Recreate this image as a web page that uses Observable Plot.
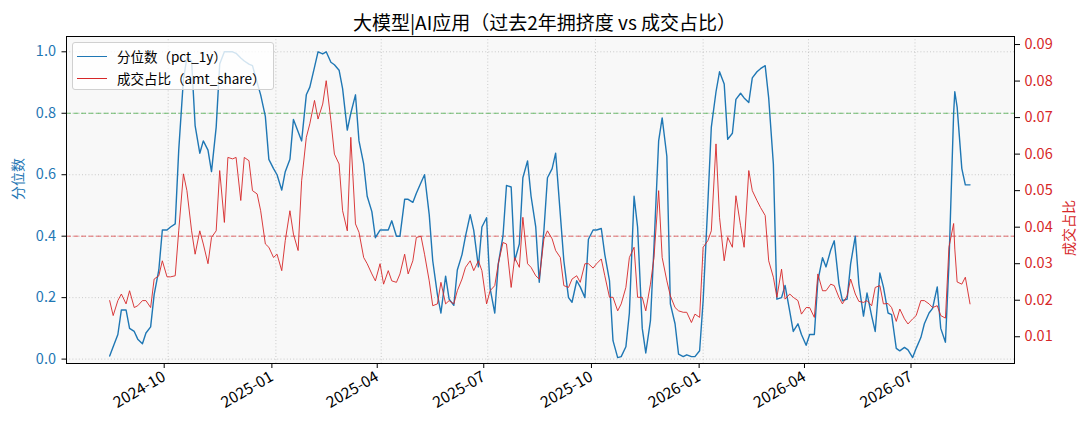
<!DOCTYPE html>
<html>
<head>
<meta charset="utf-8">
<script src="https://cdn.jsdelivr.net/npm/d3@7"></script>
<script src="https://cdn.jsdelivr.net/npm/@observablehq/plot@0.6"></script>
<style>
  html, body { margin: 0; padding: 0; background: #fff; }
  #wrap { position: relative; width: 1089px; height: 429px; font-family: "Noto Sans CJK SC", "Noto Sans", sans-serif; }
  #legend { position: absolute; left: 72px; top: 42px; width: 202px; height: 48px; box-sizing: border-box;
    background: rgba(255,255,255,0.8); border: 1px solid #d0d0d0; border-radius: 3px; font-size: 13.5px; color: #000; }
  .row { position: absolute; left: 0; height: 20px; display: flex; align-items: center; white-space: nowrap; }
  .sw { display: inline-block; width: 30px; margin-left: 4px; margin-right: 10px; }
</style>
</head>
<body>
<div id="wrap">
  <div id="chart"></div>
  <div id="legend">
    <div class="row" style="top:3px"><span class="sw" style="border-top:1.6px solid #1f77b4"></span><span>分位数（pct_1y）</span></div>
    <div class="row" style="top:25px"><span class="sw" style="border-top:1.1px solid #d62728"></span><span>成交占比（amt_share）</span></div>
  </div>
</div>
<script>
const title = "大模型|AI应用（过去2年拥挤度 vs 成交占比）";
const leftLabel = "分位数";
const rightLabel = "成交占比";

const dates = [
  "2024-08-12","2024-08-15","2024-08-19","2024-08-22","2024-08-26","2024-08-29",
  "2024-09-02","2024-09-05","2024-09-09","2024-09-12","2024-09-16","2024-09-19","2024-09-23","2024-09-26","2024-09-30",
  "2024-10-03","2024-10-07","2024-10-10","2024-10-14","2024-10-17","2024-10-21","2024-10-24","2024-10-28","2024-10-31",
  "2024-11-04","2024-11-07","2024-11-11","2024-11-14","2024-11-18","2024-11-21","2024-11-25","2024-11-28",
  "2024-12-02","2024-12-05","2024-12-09","2024-12-12","2024-12-16","2024-12-19","2024-12-23","2024-12-26","2024-12-30",
  "2025-01-02","2025-01-06","2025-01-09","2025-01-13","2025-01-16","2025-01-20","2025-01-23","2025-01-27","2025-01-30",
  "2025-02-03","2025-02-06","2025-02-10","2025-02-13","2025-02-17","2025-02-20","2025-02-24","2025-02-27",
  "2025-03-03","2025-03-06","2025-03-10","2025-03-13","2025-03-17","2025-03-20","2025-03-24","2025-03-27","2025-03-31",
  "2025-04-03","2025-04-07","2025-04-10","2025-04-14","2025-04-17","2025-04-21","2025-04-24","2025-04-28",
  "2025-05-01","2025-05-05","2025-05-08","2025-05-12","2025-05-15","2025-05-19","2025-05-22","2025-05-26","2025-05-29",
  "2025-06-02","2025-06-05","2025-06-09","2025-06-12","2025-06-16","2025-06-19","2025-06-23","2025-06-26","2025-06-30",
  "2025-07-03","2025-07-07","2025-07-10","2025-07-14","2025-07-17","2025-07-21","2025-07-24","2025-07-28","2025-07-31",
  "2025-08-04","2025-08-07","2025-08-11","2025-08-14","2025-08-18","2025-08-21","2025-08-25","2025-08-28",
  "2025-09-01","2025-09-04","2025-09-08","2025-09-11","2025-09-15","2025-09-18","2025-09-22","2025-09-25","2025-09-29",
  "2025-10-02","2025-10-06","2025-10-09","2025-10-13","2025-10-16","2025-10-20","2025-10-23","2025-10-27","2025-10-30",
  "2025-11-03","2025-11-06","2025-11-10","2025-11-13","2025-11-17","2025-11-20","2025-11-24","2025-11-27",
  "2025-12-01","2025-12-04","2025-12-08","2025-12-11","2025-12-15","2025-12-18","2025-12-22","2025-12-25","2025-12-29",
  "2026-01-01","2026-01-05","2026-01-08","2026-01-12","2026-01-15","2026-01-19","2026-01-22","2026-01-26","2026-01-29",
  "2026-02-02","2026-02-05","2026-02-09","2026-02-12","2026-02-16","2026-02-19","2026-02-23","2026-02-26",
  "2026-03-02","2026-03-05","2026-03-09","2026-03-12","2026-03-16","2026-03-19","2026-03-23","2026-03-26","2026-03-30",
  "2026-04-02","2026-04-06","2026-04-09","2026-04-13","2026-04-16","2026-04-20","2026-04-23","2026-04-27","2026-04-30",
  "2026-05-04","2026-05-07","2026-05-11","2026-05-14","2026-05-18","2026-05-21","2026-05-25","2026-05-28",
  "2026-06-01","2026-06-04","2026-06-08","2026-06-11","2026-06-15","2026-06-18","2026-06-22","2026-06-25","2026-06-29",
  "2026-07-02","2026-07-06","2026-07-09","2026-07-13","2026-07-16","2026-07-20","2026-07-23","2026-07-27","2026-07-30",
  "2026-08-03","2026-08-04","2026-08-06","2026-08-10","2026-08-13","2026-08-17"
];

const pct1y = [
  0.01,0.04,0.08,0.16,0.16,0.10,
  0.09,0.065,0.05,0.085,0.105,0.21,0.29,0.42,0.42,
  0.43,0.44,0.68,0.91,0.98,0.97,0.76,0.67,0.71,
  0.68,0.61,0.755,0.96,1.0,1.0,1.0,0.995,
  0.98,0.97,0.96,0.955,0.90,0.86,0.79,0.65,0.62,
  0.60,0.55,0.61,0.65,0.78,0.74,0.71,0.86,0.885,
  0.95,1.0,0.993,1.0,0.966,0.958,0.94,0.88,
  0.745,0.80,0.86,0.71,0.635,0.53,0.48,0.395,0.42,
  0.42,0.42,0.45,0.40,0.40,0.52,0.52,0.51,
  0.54,0.575,0.60,0.47,0.32,0.21,0.15,0.27,0.195,
  0.175,0.29,0.34,0.40,0.47,0.42,0.30,0.43,0.46,
  0.23,0.15,0.31,0.40,0.565,0.56,0.32,0.375,0.59,
  0.645,0.53,0.43,0.25,0.42,0.59,0.62,0.67,
  0.47,0.32,0.20,0.185,0.255,0.235,0.20,0.39,0.42,
  0.42,0.425,0.34,0.255,0.06,0.005,0.008,0.04,0.15,
  0.53,0.43,0.10,0.02,0.125,0.365,0.71,0.785,
  0.66,0.18,0.115,0.016,0.008,0.014,0.008,0.008,0.027,
  0.19,0.505,0.755,0.87,0.935,0.895,0.715,0.735,0.845,
  0.865,0.85,0.835,0.915,0.935,0.945,0.955,0.85,
  0.635,0.195,0.20,0.24,0.155,0.09,0.115,0.08,0.045,
  0.08,0.08,0.255,0.33,0.30,0.355,0.385,0.245,0.19,
  0.195,0.31,0.40,0.245,0.14,0.215,0.14,0.09,
  0.28,0.235,0.15,0.145,0.035,0.027,0.038,0.03,0.005,
  0.035,0.07,0.115,0.15,0.165,0.235,0.10,0.055,0.31,
  0.80,0.87,0.82,0.62,0.567,0.567
];

const amtShare = [
  0.0199,0.0158,0.0199,0.0217,0.019,0.0226,
  0.018,0.0185,0.0199,0.0199,0.018,0.0258,0.0267,0.0308,0.0264,
  0.0264,0.0267,0.039,0.0546,0.050,0.039,0.0326,0.039,0.0354,
  0.030,0.0372,0.039,0.0555,0.0413,0.0591,0.0587,0.0591,
  0.0473,0.0591,0.0582,0.050,0.0491,0.0445,0.0354,0.0345,0.0317,
  0.0326,0.0281,0.0363,0.0445,0.0381,0.0336,0.0527,0.0646,0.0683,
  0.0747,0.0696,0.0737,0.0801,0.0692,0.060,0.0573,0.0445,
  0.039,0.0646,0.0409,0.0386,0.0317,0.030,0.0272,0.0253,0.030,
  0.0244,0.0281,0.0253,0.0249,0.0272,0.0326,0.0272,0.0308,
  0.0372,0.0375,0.0326,0.0253,0.0185,0.019,0.0249,0.019,0.0199,
  0.019,0.0226,0.0258,0.029,0.0308,0.0281,0.0308,0.0281,0.019,
  0.0226,0.024,0.030,0.0358,0.0354,0.0235,0.0317,0.029,0.0427,
  0.030,0.029,0.0267,0.0258,0.0368,0.039,0.0368,0.0336,
  0.0317,0.024,0.0235,0.0258,0.0267,0.0249,0.030,0.030,0.0288,
  0.030,0.0313,0.0267,0.0208,0.0208,0.0171,0.019,0.0235,0.0317,
  0.0345,0.0208,0.0208,0.0171,0.0244,0.0317,0.050,0.0317,
  0.0253,0.0212,0.018,0.0171,0.0167,0.0167,0.0139,0.0162,0.0153,
  0.0345,0.0363,0.039,0.0628,0.0427,0.0308,0.0372,0.0345,0.0486,
  0.0404,0.0345,0.0555,0.050,0.0473,0.0454,0.0432,0.0308,
  0.0263,0.0208,0.0285,0.0203,0.0217,0.0208,0.0199,0.0162,0.018,
  0.018,0.0153,0.0272,0.0226,0.0226,0.0244,0.024,0.0208,0.019,
  0.0212,0.0258,0.0217,0.0197,0.0194,0.0199,0.0185,0.0235,
  0.024,0.019,0.0191,0.018,0.0142,0.0176,0.0149,0.0135,0.0149,
  0.0158,0.0199,0.0199,0.019,0.018,0.0185,0.0158,0.0151,0.0345,
  0.041,0.034,0.025,0.0244,0.0263,0.019
];

const xTicks = ["2024-10-01","2025-01-01","2025-04-01","2025-07-01","2025-10-01","2026-01-01","2026-04-01","2026-07-01"];
const leftTicks = [0.0, 0.2, 0.4, 0.6, 0.8, 1.0];
const rightTicks = [0.01, 0.02, 0.03, 0.04, 0.05, 0.06, 0.07, 0.08, 0.09];
const refLines = [0.8, 0.4];

const BLUE = "#1f77b4", RED = "#d62728", GREEN = "#2ca02c";
const leftDomain = [-0.0143, 1.0498];
const rightDomain = [0.00268, 0.0922];
const toLeft = d3.scaleLinear().domain(rightDomain).range(leftDomain);

const table = dates.map((d, i) => ({date: new Date(d), pct: pct1y[i], amt: amtShare[i]}));
const xTickDates = xTicks.map(d => new Date(d));
const fmtMonth = d3.utcFormat("%Y-%m");

const chart = Plot.plot({
  width: 1089,
  height: 429,
  marginLeft: 66,
  marginRight: 75,
  marginTop: 36,
  marginBottom: 66,
  style: {fontFamily: '"Noto Sans CJK SC", "Noto Sans", sans-serif', fontSize: "14px", background: "#fff", overflow: "visible"},
  x: {type: "utc", domain: [new Date("2024-07-06T03:00:00Z"), new Date("2026-09-24T00:00:00Z")]},
  y: {domain: leftDomain},
  marks: [
    Plot.frame({fill: "#f8f8f8", stroke: null}),
    Plot.gridX(xTickDates, {stroke: "#b0b0b0", strokeOpacity: 0.8, strokeWidth: 0.8, strokeDasharray: "1,2.2"}),
    Plot.gridY(leftTicks, {stroke: "#b0b0b0", strokeOpacity: 0.8, strokeWidth: 0.8, strokeDasharray: "1,2.2"}),
    Plot.ruleY([refLines[0]], {stroke: GREEN, strokeOpacity: 0.75, strokeWidth: 0.9, strokeDasharray: "5,2.5"}),
    Plot.ruleY([refLines[1]], {stroke: RED, strokeOpacity: 0.75, strokeWidth: 0.9, strokeDasharray: "5,2.5"}),
    Plot.lineY(table, {x: "date", y: "pct", stroke: BLUE, strokeWidth: 1.4}),
    Plot.lineY(table, {x: "date", y: d => toLeft(d.amt), stroke: RED, strokeWidth: 1, strokeOpacity: 0.9}),
    Plot.axisY(leftTicks, {anchor: "left", tickFormat: d3.format(".1f"), color: BLUE, stroke: "#000", tickSize: 4.5, tickPadding: 6, label: null, fontSize: 14.5}),
    Plot.axisY(rightTicks.map(toLeft), {anchor: "right", tickFormat: v => d3.format(".2f")(toLeft.invert(v)), color: RED, stroke: "#000", tickSize: 5, tickPadding: 5, label: null, fontSize: 14.5}),
    Plot.axisX(xTickDates, {anchor: "bottom", tickFormat: fmtMonth, tickRotate: -30, tickSize: 5, tickPadding: 7, dx: -4, label: null, fontSize: 15.5, color: "#000"}),
    Plot.frame({stroke: "#000", strokeWidth: 1}),
    Plot.text([title], {frameAnchor: "top", dx: 4, dy: -20, fontSize: 19, fill: "#000"}),
    Plot.text([leftLabel], {frameAnchor: "left", dx: -48, rotate: -90, fontSize: 14, fill: BLUE}),
    Plot.text([rightLabel], {frameAnchor: "right", dx: 55, rotate: -90, fontSize: 14, fill: RED})
  ]
});
document.getElementById("chart").appendChild(chart);
</script>
</body>
</html>
